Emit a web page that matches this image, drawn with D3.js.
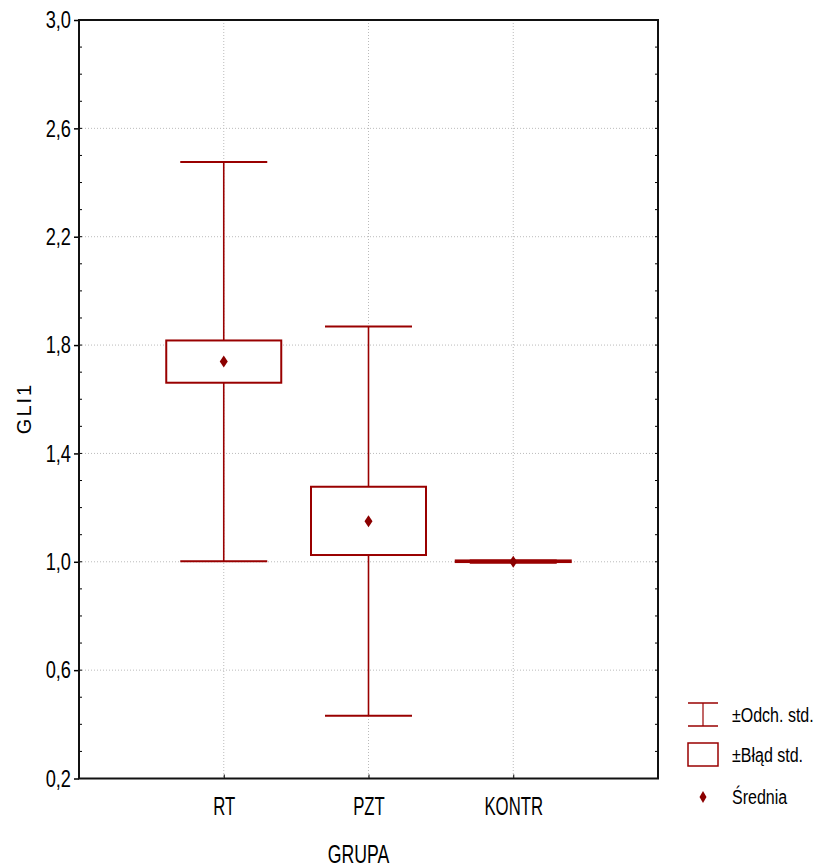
<!DOCTYPE html>
<html><head><meta charset="utf-8">
<script src="https://cdn.jsdelivr.net/npm/d3@7"></script>
<style>
body{margin:0;background:#fff;}
text{font-family:"Liberation Sans",Arial,sans-serif;}
</style></head>
<body>
<svg id="c" width="823" height="868"></svg>
<script>
const categories = ["RT", "PZT", "KONTR"];
const means = [1.739, 1.150, 1.000];
const seLow = [1.661, 1.025, 0.999];
const seHigh = [1.817, 1.277, 1.005];
const sdLow = [1.002, 0.432, 0.996];
const sdHigh = [2.476, 1.869, 1.005];
const yTicks = [0.2, 0.6, 1.0, 1.4, 1.8, 2.2, 2.6, 3.0];
const legendLabels = ["±Odch. std.", "±Błąd std.", "Średnia"];

const red = "#990000";
const svg = d3.select("#c");
const L = 79, R = 658, T = 20, B = 778.5;

const y = d3.scaleLinear().domain([0.2, 3.0]).range([B, T]);
const x = d3.scaleLinear().domain([0, 4]).range([L, R]);
const fmt = v => d3.format(".1f")(v).replace(".", ",");

// horizontally condense text around its anchor point
function narrow(sel, f) {
  sel.each(function () {
    const ax = +(this.getAttribute("x") || 0);
    d3.select(this).attr("transform", `translate(${ax},0) scale(${f},1) translate(${-ax},0)`);
  });
}

// grid
const g = svg.append("g");
g.selectAll(".hg").data(yTicks.slice(1, -1)).join("line")
  .attr("x1", L).attr("x2", R).attr("y1", d => y(d)).attr("y2", d => y(d))
  .attr("stroke", "#bbb").attr("stroke-width", 1).attr("stroke-dasharray", "1,2");
g.selectAll(".vg").data(categories).join("line")
  .attr("x1", (d, i) => x(i + 1)).attr("x2", (d, i) => x(i + 1))
  .attr("y1", T).attr("y2", B)
  .attr("stroke", "#bbb").attr("stroke-width", 1).attr("stroke-dasharray", "1,2");

// minor ticks inside left and right axes
const minor = d3.range(2, 31).map(v => v / 10);
svg.append("g").selectAll("line").data(minor).join("line")
  .attr("x1", L).attr("x2", L + 3).attr("y1", d => y(d)).attr("y2", d => y(d))
  .attr("stroke", "#000").attr("stroke-width", 1);
svg.append("g").selectAll("line").data(minor).join("line")
  .attr("x1", R - 3).attr("x2", R).attr("y1", d => y(d)).attr("y2", d => y(d))
  .attr("stroke", "#000").attr("stroke-width", 1);

// left axis (major ticks outward)
const yAxis = d3.axisLeft(y).tickValues(yTicks).tickFormat(fmt).tickSize(5).tickPadding(3);
const ya = svg.append("g").attr("transform", `translate(${L},0)`).call(yAxis);
ya.select(".domain").remove();
ya.selectAll("line").attr("stroke", "#000").attr("stroke-width", 1.5);
ya.selectAll("text").attr("font-size", 24).attr("fill", "#000").call(narrow, 0.76);

// bottom axis
const xAxis = d3.axisBottom(x).tickValues([1, 2, 3]).tickFormat((d) => categories[d - 1]).tickSize(-4).tickPadding(19);
const xa = svg.append("g").attr("transform", `translate(0,${B})`).call(xAxis);
xa.select(".domain").remove();
xa.selectAll("line").attr("stroke", "#000");
xa.selectAll("text").attr("font-size", 25).attr("fill", "#000").call(narrow, 0.67);

// frame
svg.append("rect").attr("x", L).attr("y", T).attr("width", R - L).attr("height", B - T)
  .attr("fill", "none").attr("stroke", "#111").attr("stroke-width", 2);

// data
const boxW = 57.5, capW = 43.5;
const data = categories.map((c, i) => ({c, i, m: means[i], sl: seLow[i], sh: seHigh[i], dl: sdLow[i], dh: sdHigh[i]}));
const dg = svg.append("g");
data.forEach(d => {
  const cx = x(d.i + 1);
  dg.append("line").attr("x1", cx).attr("x2", cx).attr("y1", y(d.dh)).attr("y2", y(d.dl))
    .attr("stroke", red).attr("stroke-width", 1.6);
  [d.dh, d.dl].forEach(v => dg.append("line").attr("x1", cx - capW).attr("x2", cx + capW)
    .attr("y1", y(v)).attr("y2", y(v)).attr("stroke", red).attr("stroke-width", 2));
  dg.append("rect").attr("x", cx - boxW).attr("width", 2 * boxW)
    .attr("y", y(d.sh)).attr("height", Math.max(0.5, y(d.sl) - y(d.sh)))
    .attr("fill", "#fff").attr("stroke", red).attr("stroke-width", 2);
  dg.append("path").attr("d", `M${cx},${y(d.m) - 6}L${cx + 4},${y(d.m)}L${cx},${y(d.m) + 6}L${cx - 4},${y(d.m)}Z`)
    .attr("fill", "#8b0000");
});

// axis titles
svg.append("text").attr("x", 358.5).attr("y", 863).attr("text-anchor", "middle")
  .attr("font-size", 26).attr("fill", "#000").text("GRUPA").call(narrow, 0.68);
svg.append("text").attr("transform", "translate(31,408.5) rotate(-90)").attr("text-anchor", "middle")
  .attr("font-size", 20).attr("fill", "#000")
  .style("letter-spacing", "2px").text("GLI1");

// legend
const lg = svg.append("g");
const lx = 688;
lg.append("line").attr("x1", lx).attr("x2", lx + 30).attr("y1", 703).attr("y2", 703).attr("stroke", red).attr("stroke-width", 1.5);
lg.append("line").attr("x1", lx).attr("x2", lx + 30).attr("y1", 726).attr("y2", 726).attr("stroke", red).attr("stroke-width", 1.5);
lg.append("line").attr("x1", lx + 15).attr("x2", lx + 15).attr("y1", 703).attr("y2", 726).attr("stroke", red).attr("stroke-width", 1.2);
lg.append("rect").attr("x", lx).attr("y", 743).attr("width", 30).attr("height", 23)
  .attr("fill", "#fff").attr("stroke", red).attr("stroke-width", 1.5);
lg.append("path").attr("d", `M${lx + 15},${791}L${lx + 18.5},${797}L${lx + 15},${803}L${lx + 11.5},${797}Z`).attr("fill", "#8b0000");
const ly = [715, 755, 797];
lg.selectAll("text").data(legendLabels).join("text")
  .attr("x", 732).attr("y", (d, i) => ly[i]).attr("dy", "0.35em")
  .attr("font-size", 20).attr("fill", "#000").text(d => d).call(narrow, 0.8);
</script>
</body></html>
